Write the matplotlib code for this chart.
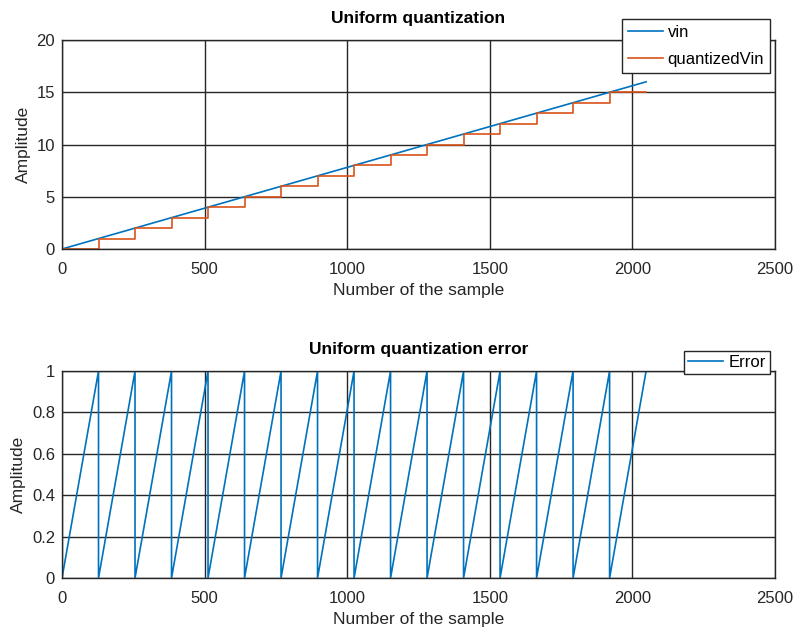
import matplotlib
matplotlib.use("Agg")
import matplotlib.pyplot as plt

# ---- data ----
vin_x = [0, 2048]
vin_y = [0, 16]

step_edges = [0, 128, 256, 384, 512, 640, 768, 896, 1024, 1152, 1280, 1408,
              1536, 1664, 1792, 1920, 2048]
quant_levels = [0, 1, 2, 3, 4, 5, 6, 7, 8, 9, 10, 11, 12, 13, 14, 15, 15]

err_x = [0, 128, 128, 256, 256, 384, 384, 512, 512, 640, 640, 768, 768,
         896, 896, 1024, 1024, 1152, 1152, 1280, 1280, 1408, 1408, 1536, 1536,
         1664, 1664, 1792, 1792, 1920, 1920, 2048]
err_y = [0, 1, 0, 1, 0, 1, 0, 1, 0, 1, 0, 1, 0, 1, 0, 1, 0, 1, 0, 1, 0, 1, 0,
         1, 0, 1, 0, 1, 0, 1, 0, 1]

x_ticks = [0, 500, 1000, 1500, 2000, 2500]
y_ticks_top = [0, 5, 10, 15, 20]
y_ticks_bot = [0, 0.2, 0.4, 0.6, 0.8, 1]
y_ticklabels_bot = ['0', '0.2', '0.4', '0.6', '0.8', '1']

# ---- style ----
plt.rcParams['font.family'] = ['Liberation Sans', 'DejaVu Sans']
BLUE = '#0072BD'
ORANGE = '#D95319'
GRID = '#262626'
TXT = '#262626'
FS_TICK = 12
FS_LAB = 12.5

fig = plt.figure(figsize=(7.93, 6.28), dpi=100)
ax1 = fig.add_axes([0.0782, 0.6035, 0.8991, 0.3328])
ax2 = fig.add_axes([0.0782, 0.0796, 0.8991, 0.3296])

def style(ax, yticks, ylim):
    ax.set_xlim(0, 2500)
    ax.set_ylim(*ylim)
    ax.set_xticks(x_ticks)
    ax.set_yticks(yticks)
    ax.grid(True, color=GRID, linewidth=1.0, alpha=1.0)
    ax.set_axisbelow(True)
    ax.tick_params(length=0, labelsize=FS_TICK, colors=TXT, pad=5)
    ax.tick_params(axis='x', pad=9)
    for s in ax.spines.values():
        s.set_color(GRID)
        s.set_linewidth(1.0)
    ax.set_xlabel('Number of the sample', color=TXT, fontsize=FS_LAB, labelpad=5)
    ax.set_ylabel('Amplitude', color=TXT, fontsize=FS_LAB, labelpad=4)

style(ax1, y_ticks_top, (0, 20))
ax1.plot(vin_x, vin_y, color=BLUE, linewidth=1.2, label='vin')
ax1.step(step_edges, quant_levels, where='post', color=ORANGE, linewidth=1.2,
         label='quantizedVin')
ax1.set_title('Uniform quantization', fontweight='bold', fontsize=FS_LAB, pad=12)
leg1 = ax1.legend(loc='upper right', bbox_to_anchor=(0.993, 1.1005),
                  borderaxespad=0, fancybox=False, framealpha=1,
                  edgecolor=GRID, fontsize=12, handlelength=2.1,
                  handletextpad=0.3, labelspacing=0.75, borderpad=0.35)
leg1.get_frame().set_linewidth(1.0)

style(ax2, y_ticks_bot, (0, 1))
ax2.set_yticklabels(y_ticklabels_bot)
ax2.plot(err_x, err_y, color=BLUE, linewidth=1.2, label='Error')
ax2.set_title('Uniform quantization error', fontweight='bold', fontsize=FS_LAB, pad=12)
leg2 = ax2.legend(loc='upper right', bbox_to_anchor=(0.993, 1.0966),
                  borderaxespad=0, fancybox=False, framealpha=1,
                  edgecolor=GRID, fontsize=12, handlelength=2.1,
                  handletextpad=0.3, borderpad=0.25)
leg2.get_frame().set_linewidth(1.0)

fig.savefig('out.png', dpi=100)
